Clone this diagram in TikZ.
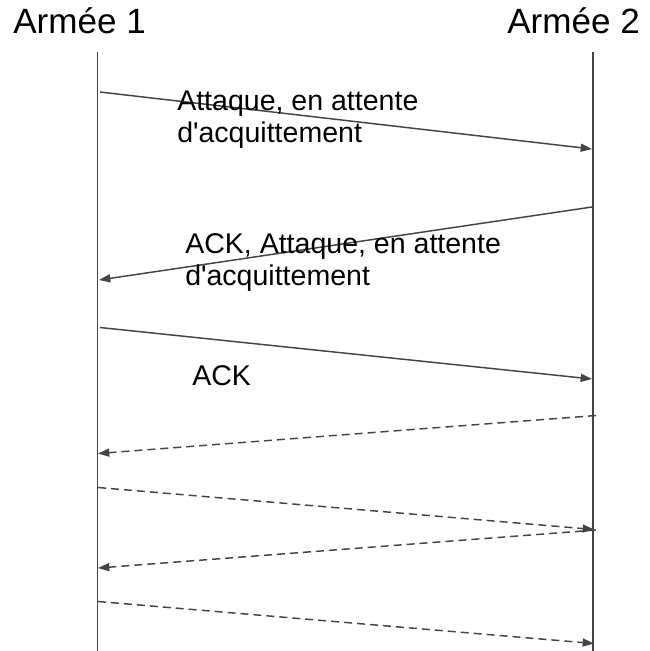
\documentclass[tikz,border=0pt]{standalone}
\usepackage{fontspec}
\setmainfont{Liberation Sans}
\usetikzlibrary{arrows.meta}
\definecolor{ink}{HTML}{444444}
\begin{document}
\begin{tikzpicture}[x=0.75pt,y=-0.75pt,
  lifeline/.style={draw=ink,line width=1.2pt},
  msg/.style={draw=ink,line width=1.1pt,-{Triangle[length=8.5pt,width=6pt]}},
  lost/.style={msg,dash pattern=on 6pt off 3.75pt},
  head/.style={font=\fontsize{26.3}{30}\selectfont,inner sep=0pt,anchor=base west},
  lbl/.style={font=\fontsize{21.4}{24}\selectfont,inner sep=0pt,anchor=base west,align=left}]
\useasboundingbox (0,0) rectangle (650,651);

% headers
\node[head] (a1) at (13,33) {Armée 1};
\node[head] (a2) at (507,33) {Armée 2};

% lifelines
\coordinate (t1) at (97.5,52);  \coordinate (b1) at (97.5,651);
\coordinate (t2) at (592.8,52); \coordinate (b2) at (592.8,651);
\draw[lifeline] (t1) -- (b1);
\draw[lifeline] (t2) -- (b2);

% message end points
\coordinate (m1s) at (100,92);    \coordinate (m1e) at (592,149);
\coordinate (m2s) at (592,207);   \coordinate (m2e) at (99,280);
\coordinate (m3s) at (100,327.5); \coordinate (m3e) at (592,379);
\coordinate (d1s) at (596,415.5); \coordinate (d1e) at (98,453.5);
\coordinate (d2s) at (98,487.5);  \coordinate (d2e) at (594,529.5);
\coordinate (d3s) at (596,530);   \coordinate (d3e) at (98,568);
\coordinate (d4s) at (98,601.5);  \coordinate (d4e) at (594,643.5);

% delivered messages
\draw[msg] (m1s) -- (m1e);
\draw[msg] (m2s) -- (m2e);
\draw[msg] (m3s) -- (m3e);

% uncertain messages
\draw[lost] (d1s) -- (d1e);
\draw[lost] (d2s) -- (d2e);
\draw[lost] (d3s) -- (d3e);
\draw[lost] (d4s) -- (d4e);

% labels (base anchor sits on the last line)
\node[lbl] (l1) at (177,142) {Attaque, en attente\\d\textquotesingle acquittement};
\node[lbl] (l2) at (185,285) {ACK, Attaque, en attente\\d\textquotesingle acquittement};
\node[lbl] (l3) at (192,385) {ACK};
\end{tikzpicture}
\end{document}
